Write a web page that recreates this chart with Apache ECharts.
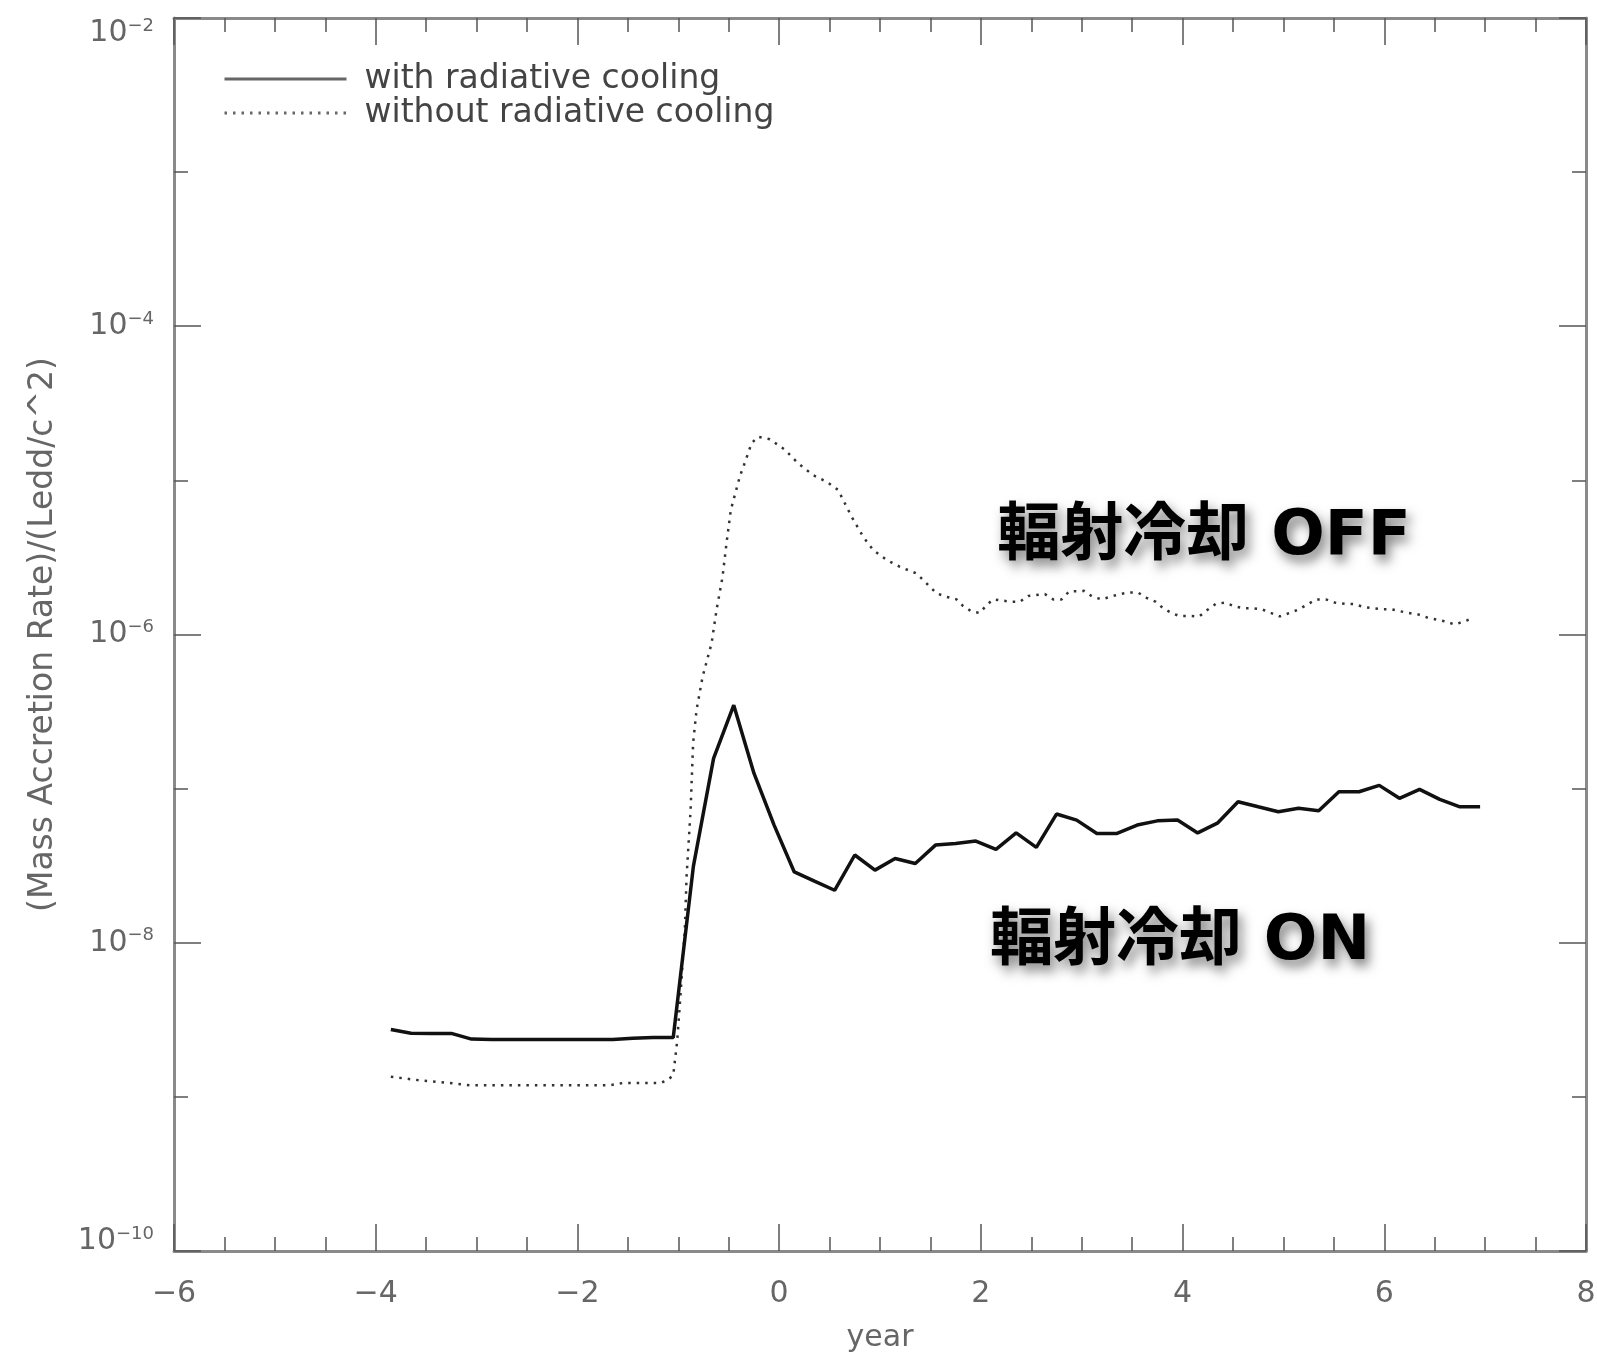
<!DOCTYPE html>
<html>
<head>
<meta charset="utf-8">
<script src="https://cdn.jsdelivr.net/npm/echarts@6/dist/echarts.min.js"></script>
<style>
  html, body { margin: 0; padding: 0; background: #fff; }
  #chart { width: 1597px; height: 1355px; }
</style>
</head>
<body>
<div id="chart"></div>
<script>
// with radiative cooling (solid)
const solidYears = [-3.85, -3.65, -3.45, -3.25, -3.05, -2.85, -2.65, -2.45, -2.25, -2.05,
  -1.85, -1.65, -1.45, -1.25, -1.05, -0.85, -0.65, -0.45, -0.25, -0.05,
  0.15, 0.35, 0.55, 0.75, 0.95, 1.15, 1.35, 1.55, 1.75, 1.95,
  2.15, 2.35, 2.55, 2.75, 2.95, 3.15, 3.35, 3.55, 3.75, 3.95,
  4.15, 4.35, 4.55, 4.75, 4.95, 5.15, 5.35, 5.55, 5.75, 5.95,
  6.15, 6.35, 6.55, 6.75, 6.95];
const solidRates = [2.74e-9, 2.59e-9, 2.58e-9, 2.58e-9, 2.37e-9, 2.36e-9, 2.36e-9, 2.36e-9, 2.36e-9, 2.36e-9,
  2.36e-9, 2.36e-9, 2.40e-9, 2.43e-9, 2.43e-9, 3.14e-8, 1.57e-7, 3.48e-7, 1.26e-7, 5.80e-8,
  2.88e-8, 2.51e-8, 2.19e-8, 3.71e-8, 2.96e-8, 3.52e-8, 3.27e-8, 4.30e-8, 4.41e-8, 4.57e-8,
  4.03e-8, 5.16e-8, 4.16e-8, 6.84e-8, 6.25e-8, 5.12e-8, 5.12e-8, 5.80e-8, 6.18e-8, 6.25e-8,
  5.16e-8, 6.00e-8, 8.22e-8, 7.62e-8, 7.08e-8, 7.45e-8, 7.18e-8, 9.55e-8, 9.55e-8, 1.05e-7,
  8.65e-8, 9.89e-8, 8.51e-8, 7.62e-8, 7.62e-8];

// without radiative cooling (dotted)
const dottedYears = [-3.85, -3.56, -3.27, -3.07, -2.57, -2.08, -1.68, -1.55, -1.18, -1.11,
  -1.05, -1.01, -0.975, -0.935, -0.918, -0.878, -0.853, -0.819, -0.759, -0.67,
  -0.621, -0.561, -0.522, -0.479, -0.39, -0.33, -0.274, -0.208, -0.092, 0.057,
  0.188, 0.337, 0.47, 0.585, 0.635, 0.718, 0.833, 0.932, 1.065, 1.197,
  1.362, 1.461, 1.561, 1.653, 1.759, 1.824, 1.908, 1.99, 2.056, 2.122,
  2.304, 2.387, 2.469, 2.634, 2.717, 2.8, 2.875, 3.021, 3.107, 3.197,
  3.286, 3.378, 3.47, 3.559, 3.643, 3.735, 3.807, 3.891, 3.966, 4.065,
  4.164, 4.244, 4.33, 4.422, 4.508, 4.6, 4.7, 4.783, 4.875, 4.964,
  5.063, 5.156, 5.245, 5.328, 5.42, 5.51, 5.609, 5.701, 5.79, 5.883,
  5.973, 6.062, 6.236, 6.335, 6.425, 6.518, 6.617, 6.699, 6.888];
const dottedRates = [1.35e-9, 1.28e-9, 1.23e-9, 1.19e-9, 1.19e-9, 1.19e-9, 1.19e-9, 1.23e-9, 1.23e-9, 1.28e-9,
  1.38e-9, 2.33e-9, 4.92e-9, 1.21e-8, 2.68e-8, 7.26e-8, 1.97e-7, 3.24e-7, 5.32e-7, 8.77e-7,
  1.44e-6, 2.37e-6, 3.91e-6, 6.43e-6, 1.06e-5, 1.36e-5, 1.74e-5, 1.92e-5, 1.85e-5, 1.58e-5,
  1.29e-5, 1.08e-5, 9.81e-6, 8.67e-6, 7.46e-6, 5.82e-6, 4.31e-6, 3.53e-6, 3.05e-6, 2.75e-6,
  2.49e-6, 2.15e-6, 1.85e-6, 1.76e-6, 1.69e-6, 1.53e-6, 1.41e-6, 1.38e-6, 1.55e-6, 1.69e-6,
  1.63e-6, 1.63e-6, 1.78e-6, 1.83e-6, 1.69e-6, 1.69e-6, 1.90e-6, 1.92e-6, 1.76e-6, 1.69e-6,
  1.76e-6, 1.83e-6, 1.87e-6, 1.87e-6, 1.73e-6, 1.63e-6, 1.48e-6, 1.38e-6, 1.32e-6, 1.32e-6,
  1.31e-6, 1.44e-6, 1.58e-6, 1.61e-6, 1.53e-6, 1.48e-6, 1.48e-6, 1.46e-6, 1.38e-6, 1.31e-6,
  1.38e-6, 1.46e-6, 1.58e-6, 1.69e-6, 1.69e-6, 1.61e-6, 1.58e-6, 1.58e-6, 1.51e-6, 1.48e-6,
  1.46e-6, 1.46e-6, 1.38e-6, 1.35e-6, 1.29e-6, 1.25e-6, 1.21e-6, 1.16e-6, 1.28e-6];

const seriesNames = ['with radiative cooling', 'without radiative cooling'];
const annotations = ['輻射冷却 OFF', '輻射冷却 ON'];

const axisColor = '#8a8a8a';
const tickColor = '#555';
const labelColor = '#666';
const font = 'DejaVu Sans';

const chart = echarts.init(document.getElementById('chart'));

const majorTick = { show: true, inside: true, length: 27, lineStyle: { color: tickColor, width: 1.5 } };
const minorTick = { show: true, inside: true, length: 14, lineStyle: { color: tickColor, width: 1.5 } };

// y tick label: 10 with superscript exponent; end labels nudged inward like the original plot
function expLabel(v) {
  const e = Math.round(Math.log10(v));
  const txt = '10{s|' + (e < 0 ? '−' + (-e) : e) + '}';
  if (e === -2) return '{g| }\n' + txt;
  if (e === -10) return txt + '\n{h| }';
  return txt;
}

const xBase = {
  type: 'value', min: -6, max: 8, interval: 2,
  splitLine: { show: false },
  axisLine: { show: true, onZero: false, lineStyle: { color: axisColor, width: 3 } },
  axisTick: majorTick,
  minorTick: { show: true, splitNumber: 4, length: 14, lineStyle: { color: tickColor, width: 1.5 } },
  minorSplitLine: { show: false }
};

const yMajor = {
  type: 'log', logBase: 100, min: 1e-10, max: 1e-2, splitNumber: 4,
  splitLine: { show: false },
  axisLine: { show: true, onZero: false, lineStyle: { color: axisColor, width: 3 } },
  axisTick: majorTick
};
const yMinor = {
  type: 'log', logBase: 10, min: 1e-10, max: 1e-2, splitNumber: 8,
  splitLine: { show: false },
  axisLine: { show: false, onZero: false },
  axisTick: minorTick,
  axisLabel: { show: false }
};

chart.setOption({
  backgroundColor: '#fff',
  animation: false,
  grid: { left: 174, right: 11, top: 18, bottom: 104, containLabel: false, outerBoundsMode: 'none' },
  legend: {
    data: seriesNames,
    orient: 'vertical',
    left: 218, top: 57,
    itemWidth: 122, itemHeight: 14, itemGap: 0,
    selectedMode: false,
    itemStyle: { opacity: 0 },
    lineStyle: { color: '#666', width: 3 },
    textStyle: { fontFamily: font, fontSize: 33, color: '#444', lineHeight: 34, padding: [0, 0, 0, 13] }
  },
  xAxis: [
    Object.assign({}, xBase, {
      position: 'bottom',
      name: 'year', nameLocation: 'middle', nameGap: 72,
      nameTextStyle: { fontFamily: font, fontSize: 30, color: labelColor },
      axisLabel: {
        margin: 28, fontFamily: font, fontSize: 30, color: labelColor,
        formatter: v => (v < 0 ? '−' + (-v) : String(v))
      }
    }),
    Object.assign({}, xBase, { position: 'top', axisLabel: { show: false } })
  ],
  yAxis: [
    Object.assign({}, yMajor, {
      position: 'left',
      name: '(Mass Accretion Rate)/(Ledd/c^2)', nameLocation: 'middle', nameGap: 114,
      nameTextStyle: { fontFamily: font, fontSize: 33, color: labelColor },
      axisLabel: {
        margin: 20, formatter: expLabel,
        rich: {
          s: { fontFamily: font, fontSize: 18, color: labelColor, lineHeight: 18, verticalAlign: 'top' },
          g: { fontSize: 10, lineHeight: 30 },
          h: { fontSize: 10, lineHeight: 20 }
        },
        fontFamily: font, fontSize: 30, color: labelColor, lineHeight: 32
      }
    }),
    Object.assign({}, yMinor, { position: 'left' }),
    Object.assign({}, yMajor, { position: 'right', axisLabel: { show: false } }),
    Object.assign({}, yMinor, { position: 'right' })
  ],
  series: [
    {
      name: seriesNames[0], type: 'line', xAxisIndex: 0, yAxisIndex: 0,
      symbol: 'none', z: 3,
      itemStyle: { color: '#111' },
      lineStyle: { color: '#111', width: 3.5 },
      data: solidYears.map((t, i) => [t, solidRates[i]])
    },
    {
      name: seriesNames[1], type: 'line', xAxisIndex: 0, yAxisIndex: 0,
      symbol: 'none', z: 2,
      itemStyle: { color: '#333' },
      lineStyle: { color: '#333', width: 2.5, type: [2.5, 6] },
      data: dottedYears.map((t, i) => [t, dottedRates[i]])
    }
  ],
  graphic: [
    {
      type: 'text', x: 1204, y: 538, z: 10,
      style: {
        text: annotations[0], align: 'center', verticalAlign: 'middle',
        font: 'bold 63px "DejaVu Sans", "Noto Sans CJK JP"', fill: '#000',
        textShadowColor: 'rgba(0,0,0,0.5)', textShadowBlur: 12,
        textShadowOffsetX: 4, textShadowOffsetY: 7
      }
    },
    {
      type: 'text', x: 1180, y: 943, z: 10,
      style: {
        text: annotations[1], align: 'center', verticalAlign: 'middle',
        font: 'bold 63px "DejaVu Sans", "Noto Sans CJK JP"', fill: '#000',
        textShadowColor: 'rgba(0,0,0,0.5)', textShadowBlur: 12,
        textShadowOffsetX: 4, textShadowOffsetY: 7
      }
    }
  ]
});
</script>
</body>
</html>
